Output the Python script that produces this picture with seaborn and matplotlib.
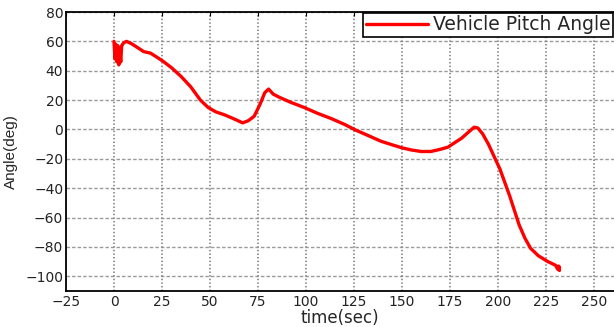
import matplotlib
matplotlib.use("Agg")
import matplotlib.pyplot as plt
import seaborn as sns
import pandas as pd

# Vehicle pitch angle history
time_sec = [0, 0.5, 1, 1.5, 2, 2.5, 3, 3.5, 4, 5, 6.5, 9, 12, 15.5, 19, 22,
            25.5, 30, 35, 40, 45, 49, 53, 57.5, 62, 67, 70, 73, 76, 78.5,
            80.5, 83, 86, 92, 99, 106, 113, 120, 126, 133, 139, 145, 150,
            155, 160, 165, 170, 174, 178, 181, 184, 187.5, 189.5, 192, 195,
            198, 201, 203.5, 206, 208, 211, 214, 217, 221, 226, 230, 231,
            232, 231.5, 232]
pitch_deg = [60, 48, 58, 46, 57, 44, 55, 46, 57, 59, 60, 58.5, 56, 53, 52,
             49.5, 46.5, 42, 36, 29, 20, 15, 12, 10, 7.5, 4.5, 6, 9, 17, 25,
             27.5, 24, 22, 18.5, 15, 11, 7.5, 3.5, -0.5, -4.5, -8, -10.5,
             -12.5, -14, -15, -15, -13.5, -12, -8.5, -6, -2.5, 1.5, 1, -3,
             -10, -18.5, -27, -36, -45, -53, -65, -74, -81, -86, -90, -92.5,
             -95, -96, -93, -94]

x_ticks = [-25, 0, 25, 50, 75, 100, 125, 150, 175, 200, 225, 250]
y_ticks = [-100, -80, -60, -40, -20, 0, 20, 40, 60, 80]

series_name = "Vehicle Pitch Angle"

df = pd.DataFrame({"time": time_sec, "angle": pitch_deg,
                   "series": series_name})

sns.set_style("white")
plt.rcParams["font.family"] = ["DejaVu Sans"]

W, H = 614, 327
fig = plt.figure(figsize=(W / 100, H / 100), dpi=100)
ax = fig.add_axes([66 / W, (H - 291) / H, (614 - 66) / W, (291 - 12) / H])

sns.lineplot(data=df, x="time", y="angle", hue="series", sort=False,
             estimator=None, palette=["#ff0000"], linewidth=2.4, ax=ax)

ax.set_xlim(-25, 260.4)
ax.set_ylim(-110, 80)
ax.set_xticks(x_ticks)
ax.set_yticks(y_ticks)

# grid: dashed horizontal, dotted vertical
for yv in y_ticks:
    ax.axhline(yv, color="#9a9a9a", lw=1.0, ls=(0, (2.5, 1.5)), zorder=0)
for xv in x_ticks:
    ax.axvline(xv, color="#8a8a8a", lw=1.3, ls=(0, (0.8, 1.2)), zorder=0)

ax.tick_params(axis="both", direction="in", length=3, width=0.8,
               labelsize=10, pad=2, top=True, colors="black")
ax.tick_params(axis="x", pad=3)
for lab in ax.get_xticklabels() + ax.get_yticklabels():
    lab.set_color("#222222")

for side in ["left", "bottom", "top"]:
    ax.spines[side].set_color("black")
    ax.spines[side].set_linewidth(1.3)
ax.spines["right"].set_visible(False)

ax.set_xlabel("time(sec)", fontsize=12, labelpad=0)
ax.set_ylabel("Angle(deg)", fontsize=11, family="Liberation Sans",
              labelpad=5)

handles, labels = ax.get_legend_handles_labels()
leg = ax.legend(handles, labels, loc="upper right",
                bbox_to_anchor=(613 / W, 1 - 13 / H),
                bbox_transform=fig.transFigure, fontsize=13.5,
                frameon=True, fancybox=False, framealpha=1,
                edgecolor="black", borderpad=0.12, handlelength=3.3,
                handletextpad=0.3, borderaxespad=0)
leg.get_frame().set_linewidth(1.2)

fig.savefig("out.png", dpi=100)
